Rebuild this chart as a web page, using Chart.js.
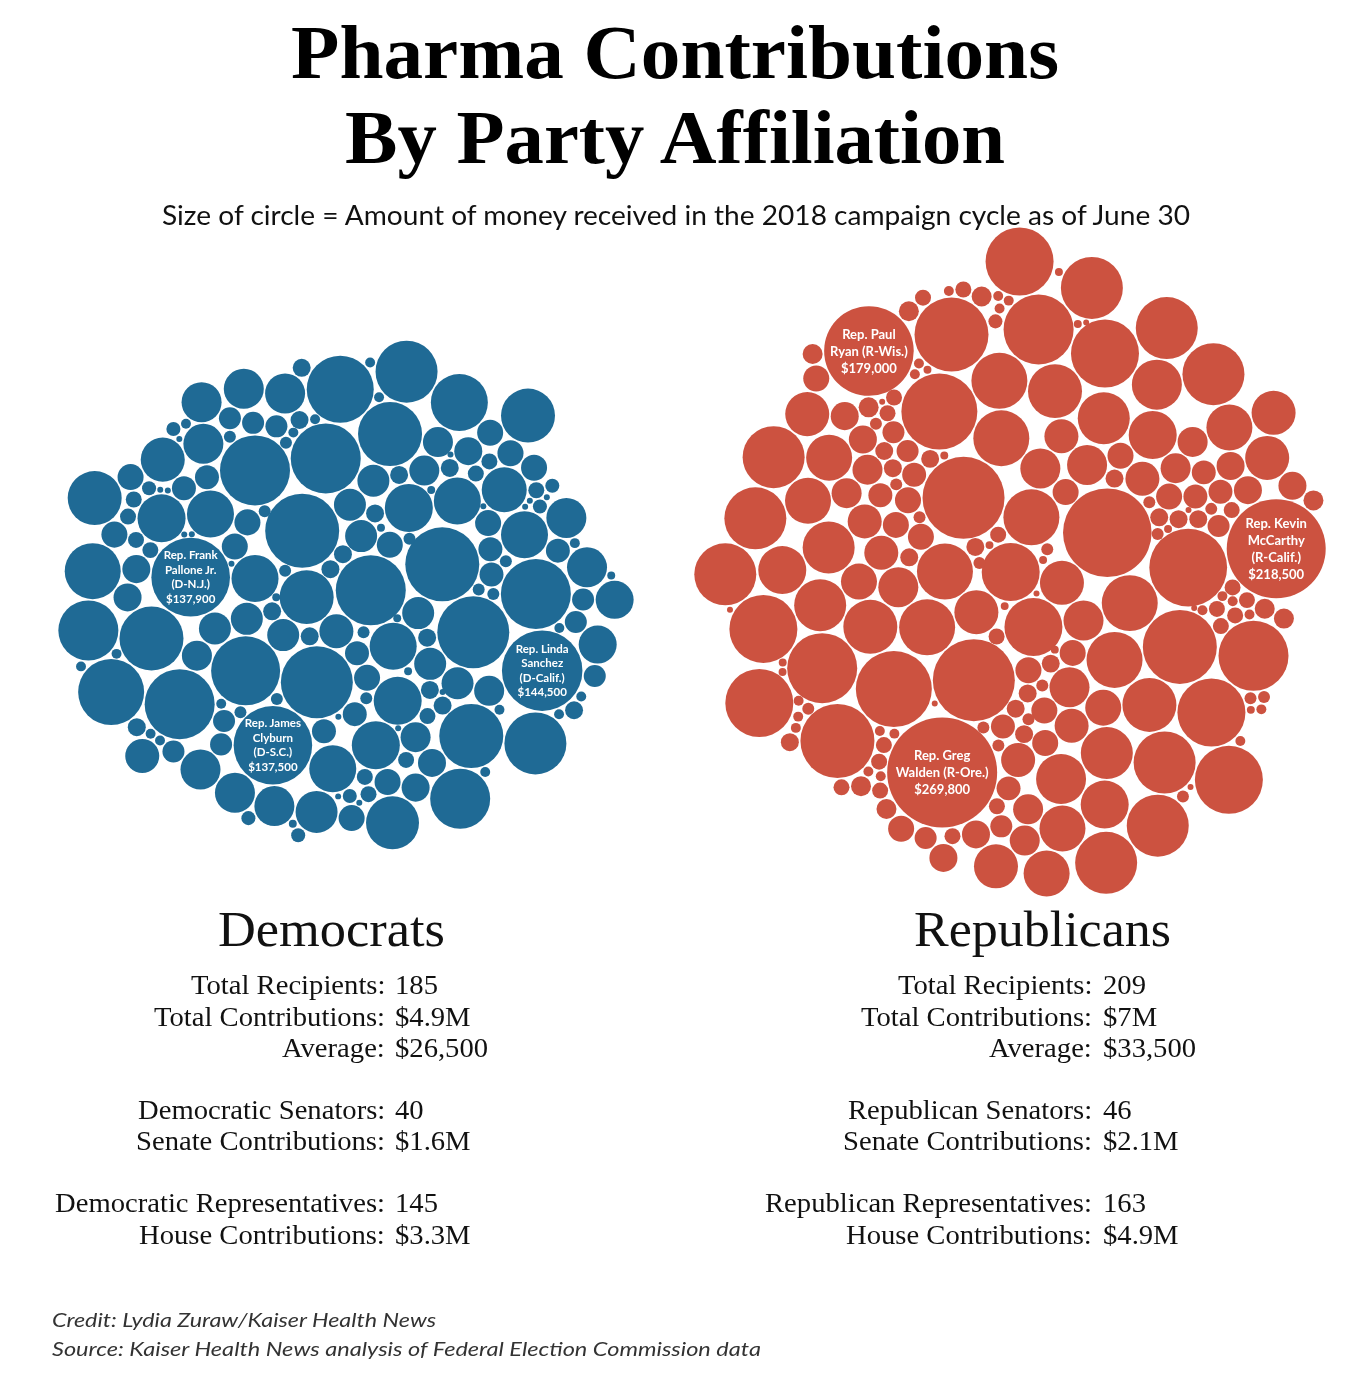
<!DOCTYPE html>
<html>
<head>
<meta charset="utf-8">
<script src="https://cdn.jsdelivr.net/npm/chart.js@4.4.1/dist/chart.umd.min.js"></script>
<style>
html,body{margin:0;padding:0;background:#fff;}
body{width:1350px;height:1375px;position:relative;overflow:hidden;}
#c{position:absolute;left:0;top:0;}
.t{position:absolute;white-space:nowrap;}
</style>
</head>
<body>
<canvas id="c" width="1350" height="1375" style="width:1350px;height:1375px"></canvas>
<script>
const demAmounts = [
144500,137900,137500,
122100,122100,115600,115600,109300,106200,109300,109300,109300,109300,
100100,97100,91300,91300,91300,85700,85700,80300,80300,72400,69900,62600,65000,65000,65000,
49300,51400,49300,51400,49300,49300,51400,45200,51400,49300,49300,43200,39300,35700,35700,35700,35700,35700,35700,32200,35700,35700,32200,35700,
25800,25800,22800,22800,22800,22800,22800,22800,20100,22800,22800,22800,20100,20100,20100,20100,17500,17500,17500,17500,17500,
15100,15100,15100,15100,15100,15100,15100,15100,15100,15100,15100,15100,
12800,12800,12800,12800,12800,12800,12800,12800,
10800,10800,10800,10800,10800,10800,10800,10800,10800,
7200,7200,7200,7200,7200,7200,7200,7200,7200,7200,7200,7200,7200,7200,
5700,5700,5700,5700,5700,5700,5700,5700,5700,5700,5700,
4400,4400,4400,4400,4400,4400,
3200,3200,3200,3200,3200,3200,3200,3200,3200,3200,3200,3200,
2200,2200,2200,2200,2200,2200,2200,2200,2200,2200,2200,2200,2200,2200,
1400,1400,1400,1400,1400,
800,800,800,800,800,800,800,800,800,800,800,800,800,800,800,800,
1400,2200,2200,4400,1400
];
const repAmounts = [
269800,218500,179000,
175000,150000,150000,135000,128800,128800,122100,122100,122100,109300,109300,109300,
103100,103100,103100,103100,103100,103100,
85700,85700,85700,85700,85700,85700,85700,
85700,85700,75000,75000,69900,69900,
69900,69900,69900,69900,69900,
65000,65000,65000,
60300,60300,60300,60300,
55700,55700,51400,51400,51400,
47200,47200,47200,47200,47200,
43200,43200,43200,43200,43200,43200,
35700,35700,35700,35700,35700,28900,28900,25800,
25800,25800,25800,25800,25800,20100,20100,
20100,20100,20100,20100,
17500,17500,17500,17500,17500,17500,17500,
15100,15100,15100,15100,15100,15100,15100,15100,15100,15100,15100,15100,
12800,12800,12800,12800,12800,12800,12800,
10800,10800,10800,10800,10800,
8900,8900,8900,8900,8900,8900,8900,8900,
7200,7200,7200,7200,7200,7200,7200,7200,7200,7200,7200,7200,7200,
5700,5700,5700,5700,5700,5700,5700,5700,5700,5700,5700,5700,5700,5700,5700,5700,
3200,3200,3200,3200,3200,3200,3200,3200,3200,3200,3200,3200,3200,
2200,2200,2200,2200,2200,2200,2200,2200,2200,2200,2200,2200,2200,2200,2200,2200,
1400,1400,1400,1400,1400,1400,1400,1400,
800,800,800,800,800,
1400,2200,5700,
8900,7200,5700,4400,3200,3200,2200,2200,1400,1400,1400,800,800,800,3200
];
// labels for the first circles of each list
const demLabels = ["Rep. Linda\nSanchez\n(D-Calif.)","Rep. Frank\nPallone Jr.\n(D-N.J.)","Rep. James\nClyburn\n(D-S.C.)"];
const repLabels = ["Rep. Greg\nWalden (R-Ore.)","Rep. Kevin\nMcCarthy\n(R-Calif.)","Rep. Paul\nRyan (R-Wis.)"];

const titleLines = ["Pharma Contributions","By Party Affiliation"];
const subtitle = "Size of circle = Amount of money received in the 2018 campaign cycle as of June 30";
const partyNames = ["Democrats","Republicans"];
const demStatLabels = ["Total Recipients:","Total Contributions:","Average:","Democratic Senators:","Senate Contributions:","Democratic Representatives:","House Contributions:"];
const demStatValues = ["185","$4.9M","$26,500","40","$1.6M","145","$3.3M"];
const repStatLabels = ["Total Recipients:","Total Contributions:","Average:","Republican Senators:","Senate Contributions:","Republican Representatives:","House Contributions:"];
const repStatValues = ["209","$7M","$33,500","46","$2.1M","163","$4.9M"];
const credits = ["Credit: Lydia Zuraw/Kaiser Health News","Source: Kaiser Health News analysis of Federal Election Commission data"];

// ---------- LAYOUT (simple collide + gravity packing) ----------
const K = 55/Math.sqrt(269800); // radius units per sqrt(dollar)
function pack(amounts, cx, cy, ax, step, slots){
  const n = amounts.length, pad = 1.6;
  const P = amounts.map(a => ({r:K*Math.sqrt(a), x:0, y:0}));
  const ga = Math.PI*(3-Math.sqrt(5));
  const J = P.map((_,i)=>(i*step)%n);
  slots.forEach((sl,i)=>{ const k=J.indexOf(sl); const t=J[i]; J[i]=sl; J[k]=t; });
  const order = P.map((_,i)=>i).sort((a,b)=>J[a]-J[b]);
  let cum = 0;
  order.forEach(i=>{
    const a = Math.PI*(P[i].r+pad)*(P[i].r+pad);
    const rad = Math.sqrt((cum + a/2)/(Math.PI*0.78));
    cum += a;
    const ang = J[i]*ga;
    P[i].x = cx + rad*Math.cos(ang)*Math.sqrt(ax);
    P[i].y = cy + rad*Math.sin(ang)/Math.sqrt(ax);
  });
  const kx = 0.008, ky = 0.008*ax*ax;
  function collide(){
    for (let i=0;i<n;i++){ const a=P[i];
      for (let j=i+1;j<n;j++){ const b=P[j];
        let dx=b.x-a.x, dy=b.y-a.y; const m=a.r+b.r+pad;
        if (dx>=m||dx<=-m||dy>=m||dy<=-m) continue;
        const d2=dx*dx+dy*dy; if (d2>=m*m) continue;
        let d=Math.sqrt(d2);
        if (d<1e-6){ dx=0.1*((i%3)-1)+0.05; dy=0.1; d=Math.hypot(dx,dy); }
        const o=(m-d)/d, ra=a.r*a.r, rb=b.r*b.r, wa=rb/(ra+rb), wb=1-wa;
        a.x-=dx*o*wa; a.y-=dy*o*wa; b.x+=dx*o*wb; b.y+=dy*o*wb;
      }
    }
  }
  for (let it=0; it<450; it++){
    const f = it<320 ? 1 : 0.3;
    for (const p of P){ p.x += (cx-p.x)*kx*f; p.y += (cy-p.y)*ky*f; }
    collide(); collide();
  }
  for (let it=0; it<80; it++) collide();
  let x0=1e9,x1=-1e9,y0=1e9,y1=-1e9;
  P.forEach(p=>{x0=Math.min(x0,p.x-p.r);x1=Math.max(x1,p.x+p.r);y0=Math.min(y0,p.y-p.r);y1=Math.max(y1,p.y+p.r);});
  const sx = cx-(x0+x1)/2, sy = cy-(y0+y1)/2;
  return P.map(p => ({x:p.x+sx, y:p.y+sy, r:p.r}));
}
const demPts = pack(demAmounts, 346, 595, 1.12, 7, [84,51,82]);
const repPts = pack(repAmounts, 1010, 562, 0.93, 7, [69,123,151]);

// ---------- CHART ----------
const chart = new Chart(document.getElementById('c'), {
  type:'bubble',
  data:{datasets:[
    {label:'Democrats', data:demPts, backgroundColor:'#1f6a95', borderWidth:0, hoverRadius:0},
    {label:'Republicans', data:repPts, backgroundColor:'#cc5240', borderWidth:0, hoverRadius:0}
  ]},
  options:{
    responsive:false, animation:false, events:[],
    layout:{padding:0, autoPadding:false},
    plugins:{legend:{display:false}, tooltip:{enabled:false}},
    scales:{
      x:{type:'linear', min:0, max:1350, display:false},
      y:{type:'linear', min:0, max:1375, reverse:true, display:false}
    }
  }
});

// ---------- TEXT ----------
function addText(str, o){
  const el = document.createElement('div');
  el.className = 't';
  el.style.font = `${o.style||'normal'} ${o.weight||400} ${o.size}px ${o.family}`;
  el.style.lineHeight = o.size+'px';
  el.style.color = o.color||'#000';
  el.textContent = str;
  const mark = document.createElement('span');
  mark.style.cssText = 'display:inline-block;width:0;height:0;vertical-align:baseline';
  el.appendChild(mark);
  el.style.left='0px'; el.style.top='0px';
  document.body.appendChild(el);
  const r = el.getBoundingClientRect();
  const w = r.width;
  const baseOff = mark.getBoundingClientRect().top - r.top;
  const sc = (o.scale!==undefined) ? o.scale : (o.width ? o.width/w : 1);
  const ws = w*sc;
  const left = o.align==='center' ? o.x-ws/2 : (o.align==='right' ? o.x-ws : o.x);
  el.style.left = left+'px';
  el.style.top = (o.baseline-baseOff)+'px';
  el.style.transformOrigin = '0 0';
  el.style.transform = `scaleX(${sc})`;
  return el;
}
const SERIF = '"Liberation Serif", "Times New Roman", serif';
const SANS = 'Lato, "Open Sans", sans-serif';
addText(titleLines[0], {x:675, baseline:78, size:76, family:SERIF, weight:700, align:'center', width:768});
addText(titleLines[1], {x:675, baseline:163, size:76, family:SERIF, weight:700, align:'center', width:660});
addText(subtitle, {x:676, baseline:225, size:26, family:SANS, align:'center', width:1028, color:'#111'});
addText(partyNames[0], {x:331, baseline:946, size:50, family:SERIF, align:'center', width:227, color:'#111'});
addText(partyNames[1], {x:1042, baseline:946, size:50, family:SERIF, align:'center', width:257, color:'#111'});

// common horizontal scale for the statistics block
const probe = addText(demStatLabels[5], {x:0, baseline:-100, size:28, family:SERIF});
const statScale = 330/probe.getBoundingClientRect().width;
probe.remove();
const statBase = [994,1026,1057,1119,1150,1212,1244];
statBase.forEach((b,i)=>{
  addText(demStatLabels[i], {x:385, baseline:b, size:28, family:SERIF, align:'right', scale:statScale, color:'#111'});
  addText(demStatValues[i], {x:395, baseline:b, size:28, family:SERIF, align:'left', scale:statScale, color:'#111'});
  addText(repStatLabels[i], {x:1092, baseline:b, size:28, family:SERIF, align:'right', scale:statScale, color:'#111'});
  addText(repStatValues[i], {x:1103, baseline:b, size:28, family:SERIF, align:'left', scale:statScale, color:'#111'});
});
addText(credits[0], {x:52, baseline:1327, size:20, family:SANS, style:'italic', align:'left', width:384, color:'#333'});
addText(credits[1], {x:52, baseline:1356, size:20, family:SANS, style:'italic', align:'left', width:709, color:'#333'});

// labels inside the highlighted circles
function circleLabels(dsIndex, labels, amounts, size, lh){
  const meta = chart.getDatasetMeta(dsIndex);
  labels.forEach((txt,i)=>{
    const el = meta.data[i];
    const d = document.createElement('div');
    d.className = 't';
    d.style.cssText += `left:${el.x}px;top:${el.y}px;transform:translate(-50%,-50%);text-align:center;color:#fff;font:700 ${size}px Lato, sans-serif;line-height:${lh}px;`;
    const lines = txt.split('\n').concat(['$'+amounts[i].toLocaleString('en-US')]);
    d.innerHTML = lines.map(s=>s.replace(/&/g,'&amp;').replace(/</g,'&lt;')).join('<br>');
    document.body.appendChild(d);
  });
}
circleLabels(0, demLabels, demAmounts, 11.5, 14.5);
circleLabels(1, repLabels, repAmounts, 13, 17);
</script>
</body>
</html>
